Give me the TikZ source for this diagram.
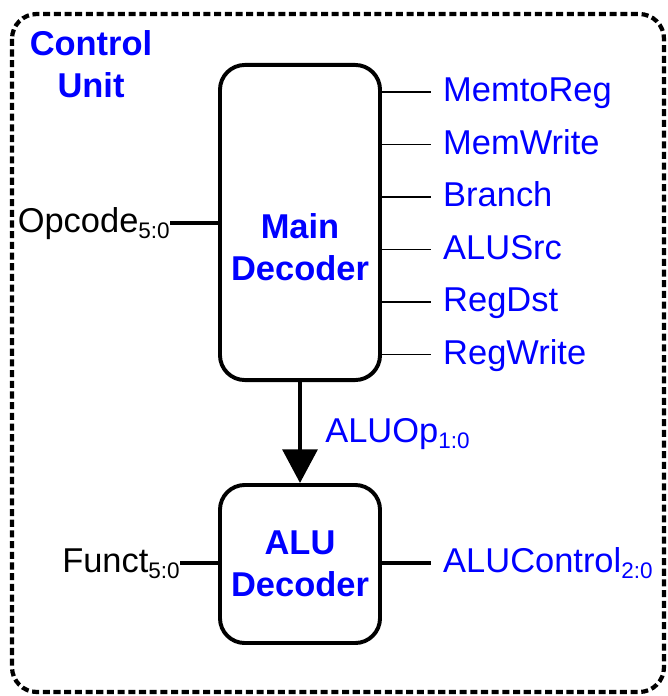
\documentclass[tikz,border=0pt]{standalone}
\usepackage{fontspec}
\setmainfont{Liberation Sans}
\usepackage{xcolor}
\usetikzlibrary{positioning,arrows.meta}
\definecolor{sigblue}{RGB}{0,0,255}
\newcommand{\bits}[1]{{\fontsize{16}{16}\selectfont\raisebox{-4.3pt}{#1}}}

\begin{document}
\begin{tikzpicture}[x=0.025cm,y=-0.025cm,
  decoder/.style={draw,line width=2.8pt,rounded corners=0.62cm,minimum width=4cm},
  dectext/.style={text=sigblue,font=\fontsize{24.5}{29.8}\selectfont\bfseries,align=center},
  signal/.style={font=\fontsize{24.5}{29}\selectfont,text height=14pt,text depth=0pt},
  outsig/.style={signal,text=sigblue,anchor=west,inner xsep=8.5pt},
  insig/.style={signal,anchor=east,inner xsep=0pt},
  wire/.style={line width=0.9pt},
  bus/.style={line width=2.8pt}]
\useasboundingbox (0,0) rectangle (667,696);
% control unit border
\draw[line width=3pt,dash pattern=on 5pt off 2.6pt,rounded corners=0.62cm] (12,14) rectangle (664,692);
\node[dectext] (cu) at (91,64) {Control\\Unit};
% decoders
\node[decoder,minimum height=7.875cm] (main) at (300,222.5) {};
\node[dectext] (maintext) at (300,247.5) {Main\\Decoder};
\node[decoder,dectext,minimum height=3.95cm] (alu) at (300,564) {ALU\\Decoder};
% main decoder outputs
\foreach \name/\y [count=\i] in {MemtoReg/92,MemWrite/144.5,Branch/197,ALUSrc/249.5,RegDst/302,RegWrite/354.5}{
  \node[outsig] (out\i) at (431,\y) {\name};
  \draw[wire] (main.east |- out\i.west) -- (out\i.west);
}
% inputs
\node[insig] (opcode) at (170,222.7) {Opcode\bits{5:0}};
\draw[bus] (opcode.east) -- (main.west |- opcode.east);
\node[insig] (funct) at (180,563) {Funct\bits{5:0}};
\draw[bus] (funct.east) -- (alu.west |- funct.east);
% ALU decoder
\node[outsig] (aluctl) at (431,563) {ALUControl\bits{2:0}};
\draw[bus] (alu.east |- aluctl.west) -- (aluctl.west);
\draw[bus,-{Triangle[width=24.8pt,length=24pt]}] (main.south) -- (alu.north);
\node[signal,text=sigblue,anchor=west,inner xsep=0pt] (aluop) at (325,433) {ALUOp\bits{1:0}};
\end{tikzpicture}
\end{document}
